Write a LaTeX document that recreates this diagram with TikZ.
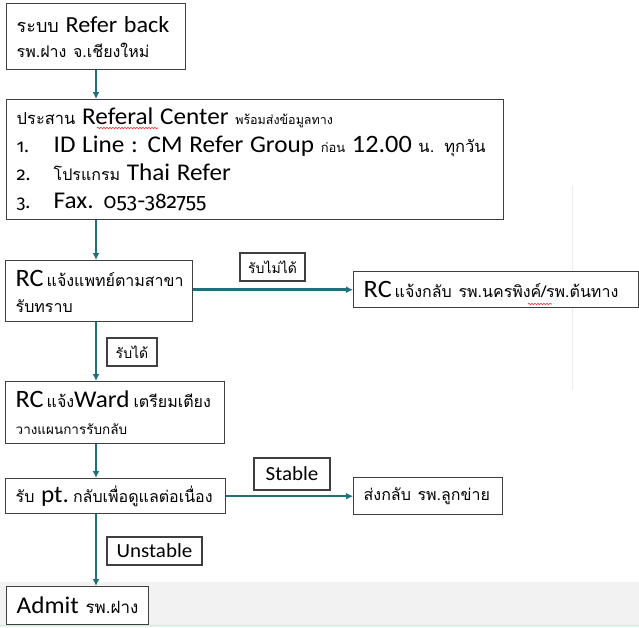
\documentclass[tikz,border=0pt]{standalone}
\usepackage{fontspec}
\setmainfont{Carlito}[FakeStretch=1.05]
\newfontfamily\thf[Script=Thai]{Loma}
\newfontfamily\osf{Fira Sans}[Numbers=OldStyle, Scale=0.92]
\usetikzlibrary{arrows.meta,decorations.pathmorphing}
\definecolor{teal}{HTML}{1F707D}
\definecolor{boxline}{HTML}{3F3F3F}
\definecolor{band}{HTML}{F2F2F2}
\newcommand\tht[2][16]{{\thf\fontsize{#1}{18}\selectfont #2}}
\newcommand\bigL[2][24]{{\fontsize{#1}{26}\selectfont #2}}
\tikzset{
  box/.style={draw=boxline, line width=1.4pt, fill=white, anchor=north west, align=left, inner xsep=10pt, inner ysep=0pt, font=\fontsize{20}{26}\selectfont},
  lbl/.style={draw=boxline, line width=1.4pt, fill=white, inner sep=0pt, font=\fontsize{20}{22}\selectfont},
  conn/.style={draw=teal, line width=2.5pt, -{Latex[length=7pt,width=7pt]}},
  squig/.style={draw=red!80, line width=0.6pt, decorate, decoration={snake, segment length=3pt, amplitude=0.8pt}}
}
\begin{document}
\begin{tikzpicture}[x=1pt,y=-1pt]
\useasboundingbox (0,0) rectangle (639,627);
\fill[white] (0,0) rectangle (639,627);
\fill[band] (0,582) rectangle (639,627);
\draw[pink!60, line width=0.8pt] (0,625.5) -- (639,625.5);
\draw[black!7, line width=0.8pt] (572,185) -- (572,390);
\coordinate (cx) at (96,0);

\node[box, text width=159pt, minimum height=66pt] (b1) at (6,3)
  {\mbox{\tht[18]{ระบบ} \bigL[23]{Refer back}}\\[-1pt] \mbox{\tht{รพ.ฝาง จ.เชียงใหม่}}};

\node[box, text width=477pt, minimum height=120pt, font=\fontsize{20}{28}\selectfont] (b2) at (6,99)
  {\mbox{\tht[16.5]{ประสาน} \bigL{Referal Center} \tht[12.5]{พร้อมส่งข้อมูลทาง}}\\
   \mbox{\makebox[37pt][l]{\osf 1.}\bigL{ID Line : CM Refer Group} \tht[13]{ก่อน} {\fontsize{25}{28}\selectfont 12.00} \tht[16.5]{น. ทุกวัน}}\\
   \mbox{\makebox[37pt][l]{\osf 2.}\tht{โปรแกรม} \bigL{Thai Refer}}\\
   \mbox{\makebox[37pt][l]{\osf 3.}\bigL{Fax.} {\osf\fontsize{23}{26}\selectfont 053-382755}}};

\node[box, text width=167pt, minimum height=61pt] (b3) at (5,260)
  {\mbox{\bigL[25]{RC}\hspace{3pt}\tht{แจ้งแพทย์ตามสาขา}}\\ \mbox{\tht{รับทราบ}}};

\node[box, text width=265pt, minimum height=36pt] (r1) at (353,271)
  {\mbox{\bigL[25]{RC}\hspace{3pt}\tht{แจ้งกลับ รพ.นครพิงค์/รพ.ต้นทาง}}};

\node[box, text width=199pt, minimum height=62pt, font=\fontsize{20}{27}\selectfont] (b4) at (5,381)
  {\mbox{\bigL[25]{RC}\hspace{3pt}\tht{แจ้ง}\bigL{Ward}\hspace{4pt}\tht{เตรียมเตียง}}\\ \mbox{\tht[13.5]{วางแผนการรับกลับ}}};

\node[box, text width=200pt, minimum height=35pt] (b5) at (5,478)
  {\mbox{\tht{รับ} \bigL{pt.}\hspace{4pt}\tht{กลับเพื่อดูแลต่อเนื่อง}}};

\node[box, text width=129pt, minimum height=37pt] (r2) at (353,477)
  {\mbox{\tht{ส่งกลับ รพ.ลูกข่าย}}};

\node[box, text width=122pt, minimum height=38pt] (ad) at (6,586)
  {\mbox{\bigL{Admit} \tht[17]{รพ.ฝาง}}};

\node[lbl, minimum width=65pt, minimum height=28pt] (l1) at (272.5,267) {\tht[14]{รับไม่ได้}};
\node[lbl, minimum width=50pt, minimum height=28pt] (l2) at (132,352) {\tht[14]{รับได้}};
\node[lbl, minimum width=76pt, minimum height=32pt] (l3) at (292,474) {Stable};
\node[lbl, minimum width=95pt, minimum height=28pt] (l4) at (154.5,551) {Unstable};

\draw[conn] (b1.south -| cx) -- (b2.north -| cx);
\draw[conn] (b2.south -| cx) -- (b3.north -| cx);
\draw[conn] (b3.south -| cx) -- (b4.north -| cx);
\draw[conn] (b4.south -| cx) -- (b5.north -| cx);
\draw[conn] (b5.south -| cx) -- (ad.north -| cx);
\draw[conn] (b3.east |- r1.west) -- (r1.west);
\draw[conn] (b5.east |- r2.west) -- (r2.west);

\draw[squig] (97,128) -- (158,128);
\draw[squig] (528,304) -- (552,304);
\end{tikzpicture}
\end{document}
